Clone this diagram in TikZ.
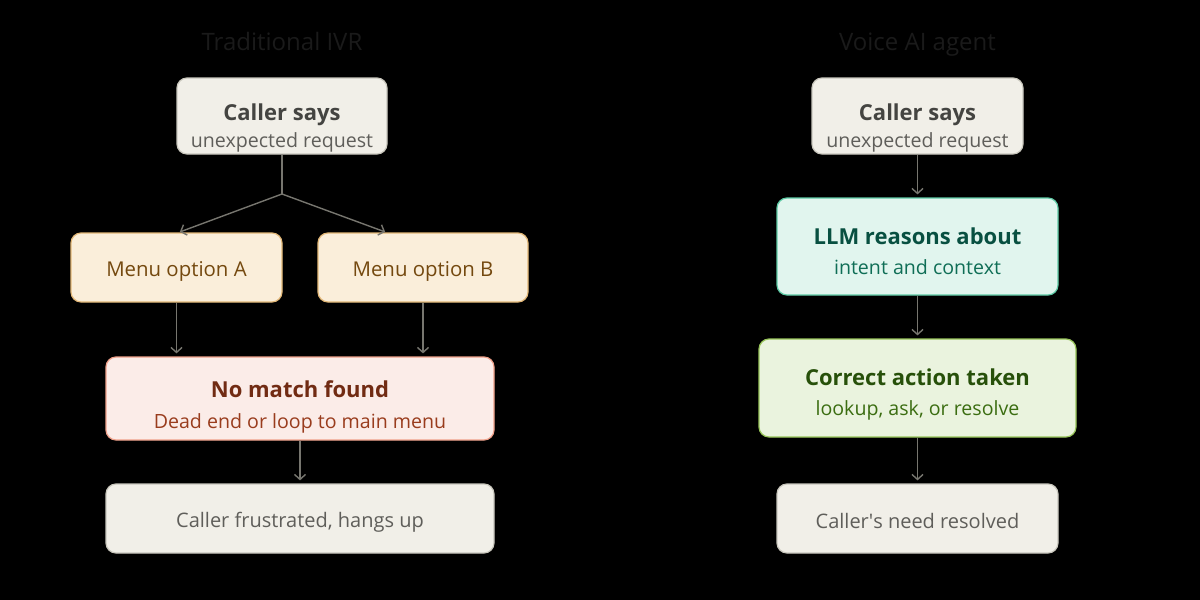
\documentclass[tikz,border=0pt]{standalone}
\usepackage{fontspec}
\setmainfont{Open Sans}
\usetikzlibrary{arrows.meta}
\definecolor{grayfill}{HTML}{F1EFE8}
\definecolor{grayline}{HTML}{C9C7BD}
\definecolor{graytitle}{HTML}{444441}
\definecolor{graysub}{HTML}{5F5E5A}
\definecolor{amberfill}{HTML}{FAEEDA}
\definecolor{amberline}{HTML}{E2B777}
\definecolor{ambertext}{HTML}{74490F}
\definecolor{redfill}{HTML}{FBECE8}
\definecolor{redline}{HTML}{EFA08A}
\definecolor{redtitle}{HTML}{712B13}
\definecolor{redsub}{HTML}{993C1D}
\definecolor{tealfill}{HTML}{E1F5EE}
\definecolor{tealline}{HTML}{5DCAA5}
\definecolor{tealtitle}{HTML}{085041}
\definecolor{tealsub}{HTML}{0F6E56}
\definecolor{greenfill}{HTML}{EAF3DE}
\definecolor{greenline}{HTML}{97C459}
\definecolor{greentitle}{HTML}{27500A}
\definecolor{greensub}{HTML}{3B6D11}
\definecolor{arrowgray}{HTML}{77766F}
\definecolor{headgray}{HTML}{1A1A1A}
% title line, sub line, strut that lowers the text in its box
\newcommand{\boxttl}[2]{{\fontsize{11}{14}\selectfont\bfseries\color{#1}#2}}
\newcommand{\boxsub}[2]{{\fontsize{9.8}{12}\selectfont\color{#1}#2}}
\newcommand{\lowr}[1]{\rule{0pt}{#1}}
\begin{document}
\begin{tikzpicture}[x=0.5pt, y=-0.5pt,
  box/.style={rounded corners=5pt, line width=0.6pt, align=center, inner sep=0pt},
  graybox/.style={box, fill=grayfill, draw=grayline},
  amberbox/.style={box, fill=amberfill, draw=amberline, text=ambertext, font=\fontsize{10.2}{12}\selectfont},
  redbox/.style={box, fill=redfill, draw=redline},
  tealbox/.style={box, fill=tealfill, draw=tealline},
  greenbox/.style={box, fill=greenfill, draw=greenline},
  heading/.style={text=headgray, anchor=base, font=\fontsize{12}{14}\selectfont},
  arr/.style={draw=arrowgray, line width=0.7pt, -{Straight Barb[length=2.5pt, width=5.5pt]}, shorten >=1.5pt},
  ln/.style={draw=arrowgray, line width=0.7pt}]
\fill[black] (0,0) rectangle (1200,600);
% left column
\node[heading] (ttlL) at (282,50) {Traditional IVR};
\node[graybox, minimum width=105pt, minimum height=38pt] (callL) at (282,116) {\lowr{20pt}\boxttl{graytitle}{Caller says}\\[1.5pt]\boxsub{graysub}{unexpected request}};
\node[amberbox, minimum width=105.5pt, minimum height=34.5pt] (optA) at (176.5,267.5) {\lowr{11.3pt}Menu option A};
\node[amberbox, minimum width=105pt, minimum height=34.5pt] (optB) at (423,267.5) {\lowr{11.3pt}Menu option B};
\node[redbox, minimum width=194pt, minimum height=41.5pt] (nomatch) at (300,398.5) {\lowr{17pt}\boxttl{redtitle}{No match found}\\[3.5pt]\boxsub{redsub}{Dead end or loop to main menu}};
\node[graybox, minimum width=194pt, minimum height=34.5pt, text=graysub, font=\fontsize{10}{12}\selectfont] (hangup) at (300,518.5) {\lowr{11.6pt}Caller frustrated, hangs up};
\coordinate (fork) at (282,194);
\coordinate (tipA) at (177,233);
\coordinate (tipB) at (388,233);
\draw[ln] (callL) -- (fork);
\draw[arr] (fork) -- (tipA);
\draw[arr] (fork) -- (tipB);
\draw[arr] (optA.south) -- (optA.south |- nomatch.north);
\draw[arr] (optB.south) -- (optB.south |- nomatch.north);
\draw[arr] (nomatch) -- (hangup);
% right column
\node[heading] (ttlR) at (917.5,50) {Voice AI agent};
\node[graybox, minimum width=105.5pt, minimum height=38pt] (callR) at (917.5,116) {\lowr{20pt}\boxttl{graytitle}{Caller says}\\[1.5pt]\boxsub{graysub}{unexpected request}};
\node[tealbox, minimum width=140.5pt, minimum height=48.5pt] (llm) at (917.5,246.5) {\lowr{13pt}\boxttl{tealtitle}{LLM reasons about}\\[3pt]\boxsub{tealsub}{intent and context}};
\node[greenbox, minimum width=158.5pt, minimum height=49pt] (action) at (917.5,388) {\lowr{15pt}\boxttl{greentitle}{Correct action taken}\\[3pt]\boxsub{greensub}{lookup, ask, or resolve}};
\node[graybox, minimum width=140.5pt, minimum height=34.5pt, text=graysub, font=\fontsize{10}{12}\selectfont] (resolved) at (917.5,518.5) {\lowr{9.6pt}Caller\textquotesingle s need resolved};
\draw[arr] (callR) -- (llm);
\draw[arr] (llm) -- (action);
\draw[arr] (action) -- (resolved);
\end{tikzpicture}
\end{document}
